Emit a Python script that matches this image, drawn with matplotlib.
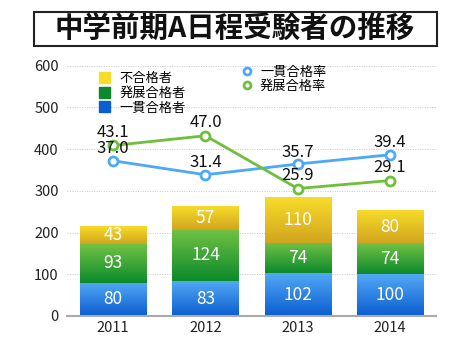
import matplotlib.pyplot as plt
import matplotlib.patches as mpatches
from matplotlib.lines import Line2D
from matplotlib.colors import LinearSegmentedColormap
import numpy as np

plt.rcParams['font.family'] = ['Noto Sans CJK JP', 'DejaVu Sans']

years = ['2011', '2012', '2013', '2014']
ikkan = [80, 83, 102, 100]        # 一貫合格者
hatten = [93, 124, 74, 74]        # 発展合格者
fugoukaku = [43, 57, 110, 80]     # 不合格者
ikkan_rate = [37.0, 31.4, 35.7, 39.4]
hatten_rate = [43.1, 47.0, 25.9, 29.1]

# gradient (top colour, bottom colour)
grad_blue = ('#52a8f5', '#0b5ed0')
grad_green = ('#72c244', '#0b8a2c')
grad_yellow = ('#f7dc2a', '#d2a51e')

fig = plt.figure(figsize=(4.70, 3.53), dpi=100)
ax = fig.add_axes([0.1426, 0.105, 0.7855, 0.709])

x = np.arange(len(years))
w = 0.72


def grad_bars(bottom, vals, cols):
    bars = ax.bar(x, vals, w, bottom=bottom, color=cols[1], zorder=2, linewidth=0)
    cmap = LinearSegmentedColormap.from_list('g', [cols[1], cols[0]])
    grad = np.linspace(0, 1, 64).reshape(-1, 1)
    for b in bars:
        bx, by = b.get_x(), b.get_y()
        im = ax.imshow(grad, cmap=cmap, origin='lower', aspect='auto',
                       extent=[bx, bx + b.get_width(), by, by + b.get_height()],
                       zorder=2.1)
        im.set_clip_path(b)
    return bars


b0 = np.zeros(4)
grad_bars(b0, ikkan, grad_blue)
grad_bars(b0 + ikkan, hatten, grad_green)
grad_bars(b0 + np.array(ikkan) + hatten, fugoukaku, grad_yellow)

bottom = np.zeros(4)
for vals in (ikkan, hatten, fugoukaku):
    for i, v in enumerate(vals):
        ax.text(x[i], bottom[i] + v / 2, str(v), ha='center', va='center',
                color='white', fontsize=12.5, zorder=5)
    bottom += vals

ax.set_xlim(-0.5, 3.5)
ax.set_ylim(0, 600)
ax.set_yticks(range(0, 601, 100))
ax.set_xticks(x)
ax.set_xticklabels(years)
ax.tick_params(length=0, labelsize=10.5, colors='#222222')
ax.tick_params(axis='y', pad=6)
ax.grid(axis='y', linestyle=(0, (1, 1.5)), color='#c8c8c8', linewidth=0.7, zorder=0)
ax.set_axisbelow(True)
for s in ['top', 'right', 'left']:
    ax.spines[s].set_visible(False)
ax.spines['bottom'].set_color('#aaaaaa')
ax.spines['bottom'].set_linewidth(1.5)

ax2 = ax.twinx()
ax2.set_ylim(-25, 75)
ax2.axis('off')
c_blue = '#4ea8f6'
c_green = '#6ec03c'
ax2.plot(x, ikkan_rate, color=c_blue, lw=2, marker='o', ms=6.5,
         mfc='white', mec=c_blue, mew=2, zorder=3)
ax2.plot(x, hatten_rate, color=c_green, lw=2, marker='o', ms=6.5,
         mfc='white', mec=c_green, mew=2, zorder=3)
for i in range(4):
    ax2.annotate(f'{ikkan_rate[i]:.1f}', (x[i], ikkan_rate[i]), xytext=(0, 8.5),
                 textcoords='offset points', ha='center', va='center', fontsize=12, color='#111111')
    ax2.annotate(f'{hatten_rate[i]:.1f}', (x[i], hatten_rate[i]), xytext=(0, 9.5),
                 textcoords='offset points', ha='center', va='center', fontsize=12, color='#111111')

h1 = [mpatches.Patch(color=grad_yellow[0]), mpatches.Patch(color=grad_green[1]),
      mpatches.Patch(color=grad_blue[1])]
leg1 = ax2.legend(h1, ['不合格者', '発展合格者', '一貫合格者'], loc='upper left',
                  bbox_to_anchor=(0.07, 1.0), frameon=False, borderpad=0,
                  labelspacing=0.12, handlelength=0.8, handleheight=0.9,
                  handletextpad=0.7, fontsize=9.5)
ax2.add_artist(leg1)
h2 = [Line2D([], [], ls='none', marker='o', ms=5, mfc='white', mec=c_blue, mew=2),
      Line2D([], [], ls='none', marker='o', ms=5, mfc='white', mec=c_green, mew=2)]
ax2.legend(h2, ['一貫合格率', '発展合格率'], loc='upper left',
           bbox_to_anchor=(0.455, 1.025), frameon=False, borderpad=0,
           labelspacing=0.05, handlelength=0.8, handletextpad=0.6, fontsize=9.5)

fig.text(0.5, 0.918, '中学前期A日程受験者の推移', ha='center', va='center',
         fontsize=20.5, fontweight='bold', color='#111111')
fig.patches.append(mpatches.Rectangle((34 / 470, 1 - 45.5 / 353), 403 / 470, 33.5 / 353,
                                      transform=fig.transFigure, fill=False,
                                      edgecolor='#222222', linewidth=1.5))

fig.savefig('out.png', dpi=100)
